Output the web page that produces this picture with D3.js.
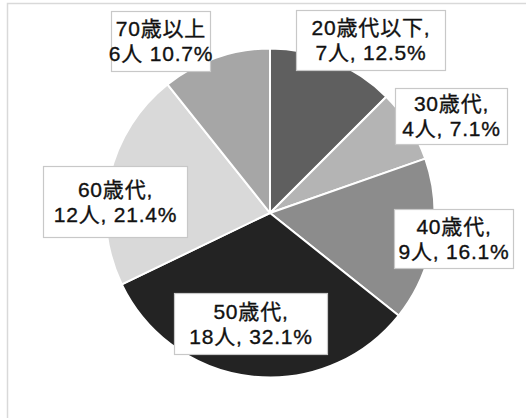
<!DOCTYPE html>
<html><head><meta charset="utf-8">
<script src="https://cdn.jsdelivr.net/npm/d3@7"></script>
<style>
html,body{margin:0;padding:0;background:#fff;}
svg{display:block;}
</style></head>
<body>
<svg id="chart" width="526" height="418"></svg>
<script>
// Data
const categories = ["20歳代以下", "30歳代", "40歳代", "50歳代", "60歳代", "70歳以上"];
const counts = [7, 4, 9, 18, 12, 6];
const percents = ["12.5%", "7.1%", "16.1%", "32.1%", "21.4%", "10.7%"];
const labelLine1 = ["20歳代以下,", "30歳代,", "40歳代,", "50歳代,", "60歳代,", "70歳以上"];
const labelLine2 = ["7人, 12.5%", "4人, 7.1%", "9人, 16.1%", "18人, 32.1%", "12人, 21.4%", "6人 10.7%"];

// Layout / style (not data)
const colors = ["#5f5f5f", "#b4b4b4", "#8c8c8c", "#232323", "#d9d9d9", "#a6a6a6"];
// label box: [x, y, w, h]
const labelBoxes = [
  [296, 10, 149, 60],
  [395, 88, 112, 56],
  [394, 209, 119, 59],
  [174, 293, 153, 61],
  [43, 166, 144, 71],
  [111, 11, 99, 60]
];

const svg = d3.select("#chart");
const cx = 270, cy = 213, R = 164.5;

// outer chart border
svg.append("rect")
  .attr("x", 7.5).attr("y", 3.5).attr("width", 560).attr("height", 460)
  .attr("fill", "#fff").attr("stroke", "#d9d9d9").attr("stroke-width", 1.5);

const pie = d3.pie().sort(null).value(d => d)(counts);
const arc = d3.arc().innerRadius(0).outerRadius(R);

const g = svg.append("g").attr("transform", `translate(${cx},${cy})`);
g.selectAll("path.slice").data(pie).enter().append("path")
  .attr("class", "slice")
  .attr("d", arc)
  .attr("fill", (d, i) => colors[i])
  .attr("stroke", "#fff")
  .attr("stroke-width", 2)
  .attr("stroke-linejoin", "round");

const lab = svg.append("g");
categories.forEach((c, i) => {
  const [x, y, w, h] = labelBoxes[i];
  const mx = x + w / 2, my = y + h / 2;
  lab.append("rect")
    .attr("x", x + 0.5).attr("y", y + 0.5).attr("width", w).attr("height", h)
    .attr("fill", "#fff").attr("stroke", "#c8c8c8").attr("stroke-width", 1.2);
  [labelLine1[i], labelLine2[i]].forEach((s, k) => {
    lab.append("text")
      .attr("x", mx + 0.5).attr("y", k === 0 ? my - 5 : my + 20)
      .attr("text-anchor", "middle")
      .attr("font-family", "'Liberation Sans', 'Noto Sans CJK JP', sans-serif")
      .attr("font-size", 21)
      .attr("letter-spacing", 0.8)
      .attr("fill", "#111")
      .attr("stroke", "#111").attr("stroke-width", 0.35)
      .text(s);
  });
});
</script>
</body></html>
